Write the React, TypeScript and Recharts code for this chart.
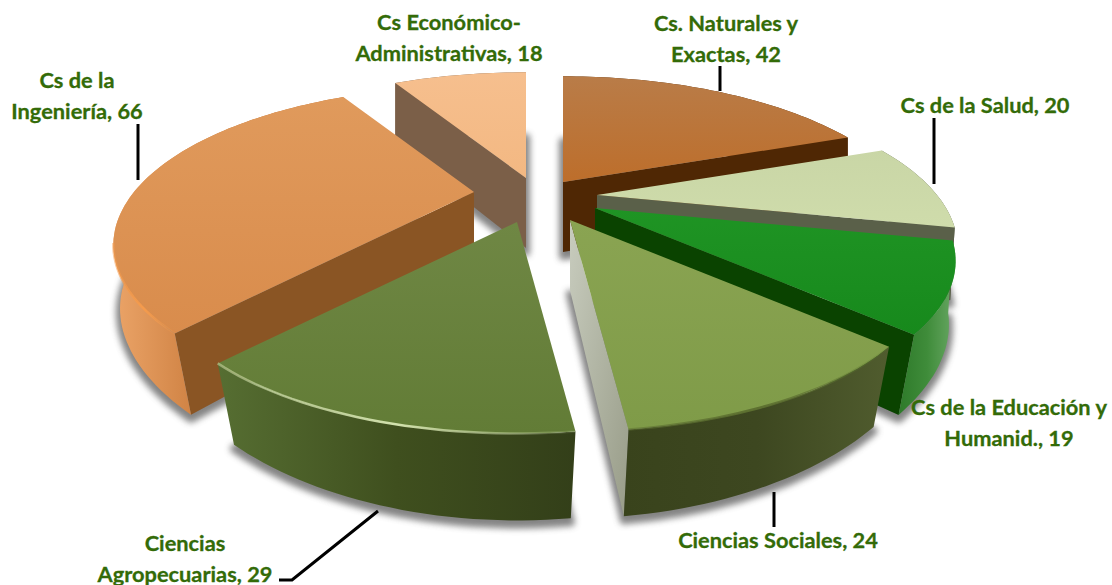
import React from 'react';
import { Pie, PieChart } from 'recharts';

// one row per slice, clockwise from twelve o'clock
const CATEGORY_LINES = [
  ['Cs. Naturales y', 'Exactas'],
  ['Cs de la Salud'],
  ['Cs de la Educación y', 'Humanid.'],
  ['Ciencias Sociales'],
  ['Ciencias', 'Agropecuarias'],
  ['Cs de la', 'Ingeniería'],
  ['Cs Económico-', 'Administrativas'],
];
const VALUES = [42, 20, 19, 24, 29, 66, 18];

const WIDTH = 1112;
const HEIGHT = 585;
const CX = 540;
const CY = 200;
const RADIUS = 340;

// perspective of the tilted disc
const TILT = 141 / 340;
const VANISH = 1 / 3;
const WALL = 70;
const FLOOR_SHRINK = 0.05 / 130;
const FLOOR_Y = 1.08;

const EXPLODE = [
  [23, -18],
  [57, -5],
  [55, 8],
  [30, 20],
  [-23, 22],
  [-66, -8],
  [-14, -22],
];

const TOP_FILL = [
  ['#b97c48', '#bd6e2b'],
  ['#c9d6a6', '#cfdcab'],
  ['#1f9424', '#17891c'],
  ['#8aa452', '#7f9b48'],
  ['#6f8744', '#627c36'],
  ['#e09a5c', '#d98c4c'],
  ['#f6bf8e', '#f3b882'],
];
const CUT_FILL = ['#4f2704', '#5a6049', '#0a4300', '#b9bcae', '#3c4a1c', '#8a5524', '#7b5f48'];
const OUTER_FILL = [
  ['#4f2704', '#4f2704', '#4f2704'],
  ['#5a6049', '#5a6049', '#5a6049'],
  ['#2e7a2a', '#3f8c3a', '#6aa865'],
  ['#39431c', '#3d4720', '#505c2e'],
  ['#566e32', '#3f4f1e', '#333f19'],
  ['#eba468', '#c47434', '#c47434'],
  ['#7b5f48', '#7b5f48', '#7b5f48'],
];
const RIM = ['', '', '', '#5d7030', '#d3e2ae', '#f59b4c', ''];
const RIM_FROM = 50;

const LABEL_X = [726, 985, 1009, 778, 185, 77, 449];
const LABEL_Y = [31, 113, 415, 548, 551, 88, 30];
const LEADERS = [
  '720,66 720,91',
  '934,118 934,184',
  '',
  '774,492 774,527',
  '279,580 292,580 378,511',
  '138,124 138,180',
  '',
];

const DRAW_ORDER = [6, 0, 5, 1, 2, 4, 3];

type Pt = [number, number];

function toPath(points: Pt[]) {
  return 'M' + points.map((p) => `${p[0].toFixed(1)},${p[1].toFixed(1)}`).join('L') + 'Z';
}

function sliceGeometry(props: any) {
  const { cx, cy, outerRadius, startAngle, endAngle, index } = props;
  const [ox, oy] = EXPLODE[index];
  const ax = cx + ox;
  const ay = cy + oy;
  const top = (p: Pt): Pt => [ax + p[0], ay + p[1]];
  const floor = (p: Pt): Pt => [
    ax + p[0] * (1 - Math.max(0, p[1]) * FLOOR_SHRINK),
    ay + WALL + p[1] * FLOOR_Y,
  ];
  const rel: Pt[] = [];
  const steps = Math.max(6, Math.ceil(Math.abs(endAngle - startAngle) / 1.5));
  for (let i = 0; i <= steps; i++) {
    const deg = startAngle + ((endAngle - startAngle) * i) / steps;
    const th = ((90 - deg) * Math.PI) / 180;
    const w = 1 + VANISH * Math.cos(th);
    rel.push([(outerRadius * Math.sin(th)) / w, (-outerRadius * TILT * Math.cos(th)) / w]);
  }
  return {
    apex: [ax, ay] as Pt,
    apexFloor: [ax, ay + WALL] as Pt,
    arcTop: rel.map(top),
    arcFloor: rel.map(floor),
  };
}

function area(q: Pt[]) {
  let s = 0;
  q.forEach((p, i) => {
    const n = q[(i + 1) % q.length];
    s += p[0] * n[1] - n[0] * p[1];
  });
  return s;
}

function Shadow(props: any) {
  const g = sliceGeometry(props);
  return (
    <path
      d={toPath([g.apexFloor, ...g.arcFloor])}
      transform="translate(0,4)"
      fill="#6f6f6f"
      stroke="#6f6f6f"
      strokeWidth={8}
      strokeLinejoin="round"
      style={{ filter: 'blur(3px)' }}
      opacity={0.85}
    />
  );
}

function Slice(props: any) {
  const { index } = props;
  const g = sliceGeometry(props);
  const last = g.arcTop.length - 1;
  const startWall: Pt[] = [g.apex, g.arcTop[0], g.arcFloor[0], g.apexFloor];
  const endWall: Pt[] = [g.arcTop[last], g.apex, g.apexFloor, g.arcFloor[last]];
  const outer: Pt[] = [...g.arcTop, ...[...g.arcFloor].reverse()];
  const rim = g.arcTop.filter((p) => p[1] > g.apex[1] + RIM_FROM);
  const isCutGrey = index === 3;
  return (
    <g>
      <defs>
        <linearGradient id={`top${index}`} x1="0" y1="0" x2="0" y2="1">
          <stop offset="0" stopColor={TOP_FILL[index][0]} />
          <stop offset="1" stopColor={TOP_FILL[index][1]} />
        </linearGradient>
        <linearGradient id={`outer${index}`} x1="0" y1="0" x2="1" y2="0">
          <stop offset="0" stopColor={OUTER_FILL[index][0]} />
          <stop offset="0.5" stopColor={OUTER_FILL[index][1]} />
          <stop offset="1" stopColor={OUTER_FILL[index][2]} />
        </linearGradient>
        <linearGradient id={`cut${index}`} x1="0" y1="0" x2="1" y2="1">
          <stop offset="0" stopColor={isCutGrey ? '#c8ccbe' : CUT_FILL[index]} />
          <stop offset="1" stopColor={isCutGrey ? '#989c88' : CUT_FILL[index]} />
        </linearGradient>
        <linearGradient id={`rim${index}`} x1="0" y1="0" x2="1" y2="0">
          <stop offset="0" stopColor={RIM[index]} stopOpacity={0.5} />
          <stop offset="0.5" stopColor={RIM[index]} />
          <stop offset="1" stopColor={RIM[index]} stopOpacity={0.1} />
        </linearGradient>
      </defs>
      {area(startWall) < 0 && <path d={toPath(startWall)} fill={`url(#cut${index})`} />}
      {area(endWall) < 0 && <path d={toPath(endWall)} fill={`url(#cut${index})`} />}
      <path d={toPath(outer)} fill={`url(#outer${index})`} />
      <path d={toPath([g.apex, ...g.arcTop])} fill={`url(#top${index})`} />
      {RIM[index] && rim.length > 1 && (
        <path
          d={'M' + rim.map((p) => p.join(',')).join('L')}
          fill="none"
          stroke={`url(#rim${index})`}
          strokeWidth={2.5}
        />
      )}
    </g>
  );
}

function SliceLabel({ index }: { index: number }) {
  const lines = CATEGORY_LINES[index];
  return (
    <g>
      {LEADERS[index] && <polyline points={LEADERS[index]} fill="none" stroke="#000" strokeWidth={3} />}
      <text
        textAnchor="middle"
        fontFamily="Lato, 'Open Sans', sans-serif"
        fontWeight={700}
        fontSize={21.8}
        fill="#336b08"
        stroke="#336b08"
        strokeWidth={0.3}
      >
        {lines.map((line, i) => (
          <tspan key={i} x={LABEL_X[index]} y={LABEL_Y[index] + i * 30.5}>
            {i === lines.length - 1 ? `${line}, ${VALUES[index]}` : line}
          </tspan>
        ))}
      </text>
    </g>
  );
}

const data = VALUES.map((value, i) => ({ name: CATEGORY_LINES[i].join(' '), value }));

function layer(key: string, shape: (p: any) => React.ReactElement | null) {
  return (
    <Pie
      key={key}
      data={data}
      dataKey="value"
      nameKey="name"
      cx={CX}
      cy={CY}
      outerRadius={RADIUS}
      startAngle={90}
      endAngle={-270}
      stroke="none"
      isAnimationActive={false}
      shape={shape}
    />
  );
}

export default function App() {
  return (
    <div style={{ position: 'absolute', left: 0, top: 0, width: WIDTH, height: HEIGHT }}>
      <PieChart width={WIDTH} height={HEIGHT} margin={{ top: 0, right: 0, bottom: 0, left: 0 }}>
        {layer('shadows', (p) => <Shadow {...p} />)}
        {DRAW_ORDER.map((k) =>
          layer(`slice${k}`, (p) => (p.index === k ? <Slice {...p} /> : <g />)),
        )}
        {layer('labels', (p) => <SliceLabel index={p.index} />)}
      </PieChart>
    </div>
  );
}
